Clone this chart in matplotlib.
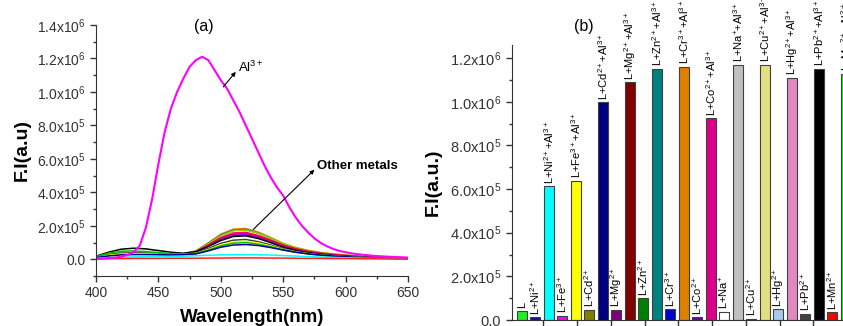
import matplotlib
matplotlib.use("Agg")
import matplotlib.pyplot as plt
import numpy as np

plt.rcParams['font.family'] = ['Liberation Sans', 'DejaVu Sans']
plt.rcParams['mathtext.fontset'] = 'custom'
plt.rcParams['mathtext.rm'] = 'Liberation Sans'
plt.rcParams['mathtext.it'] = 'Liberation Sans:italic'
plt.rcParams['mathtext.bf'] = 'Liberation Sans:bold'

# ---- panel (a): emission spectra, intensities in units of 1e5 ----
wl_al = list(range(400, 655, 5))
al3 = [0.02, 0.04, 0.07, 0.10, 0.15, 0.25, 0.42, 0.80, 1.9, 3.6,
       5.7, 7.6, 9.0, 10.0, 10.8, 11.5, 11.9, 12.1, 11.9, 11.3,
       10.7, 10.2, 9.5, 8.8, 8.0, 7.2, 6.4, 5.6, 4.9, 4.3,
       3.8, 3.1, 2.5, 2.0, 1.6, 1.25, 0.98, 0.78, 0.62, 0.5,
       0.42, 0.35, 0.30, 0.26, 0.22, 0.19, 0.17, 0.15, 0.13, 0.12, 0.10]

wl = list(range(400, 660, 10))
other_colors = ['#E08000', '#008080', '#99CC00', '#FF0080', '#FF0000', '#8000FF',
                '#000000', '#404040', '#FFFF00', '#00C000', '#0000A0', '#00FFFF', '#FF2020']
other_curves = [
    [0.15, 0.28, 0.36, 0.38, 0.36, 0.33, 0.31, 0.33, 0.50, 0.98, 1.50, 1.80, 1.84, 1.62, 1.30, 0.95, 0.70, 0.53, 0.41, 0.32, 0.26, 0.20, 0.15, 0.11, 0.08, 0.06],
    [0.14, 0.26, 0.33, 0.35, 0.34, 0.32, 0.30, 0.32, 0.48, 0.94, 1.44, 1.73, 1.78, 1.56, 1.24, 0.90, 0.66, 0.49, 0.37, 0.29, 0.23, 0.17, 0.13, 0.10, 0.07, 0.05],
    [0.16, 0.30, 0.38, 0.40, 0.38, 0.35, 0.32, 0.33, 0.47, 0.92, 1.41, 1.70, 1.74, 1.55, 1.25, 0.93, 0.68, 0.50, 0.38, 0.30, 0.24, 0.18, 0.14, 0.11, 0.08, 0.06],
    [0.13, 0.25, 0.32, 0.34, 0.33, 0.31, 0.29, 0.31, 0.45, 0.86, 1.30, 1.57, 1.61, 1.42, 1.14, 0.83, 0.61, 0.45, 0.34, 0.26, 0.21, 0.16, 0.12, 0.09, 0.07, 0.05],
    [0.12, 0.24, 0.31, 0.33, 0.32, 0.30, 0.28, 0.30, 0.43, 0.82, 1.24, 1.50, 1.54, 1.37, 1.12, 0.84, 0.63, 0.47, 0.36, 0.28, 0.22, 0.17, 0.13, 0.10, 0.07, 0.05],
    [0.12, 0.23, 0.30, 0.32, 0.31, 0.29, 0.27, 0.29, 0.41, 0.78, 1.18, 1.43, 1.47, 1.30, 1.04, 0.76, 0.56, 0.41, 0.31, 0.24, 0.19, 0.14, 0.11, 0.08, 0.06, 0.04],
    [0.18, 0.42, 0.60, 0.66, 0.62, 0.52, 0.42, 0.36, 0.45, 0.76, 1.12, 1.36, 1.40, 1.24, 0.99, 0.72, 0.53, 0.39, 0.29, 0.22, 0.17, 0.13, 0.10, 0.07, 0.05, 0.04],
    [0.14, 0.28, 0.36, 0.38, 0.36, 0.33, 0.30, 0.30, 0.38, 0.64, 0.95, 1.14, 1.18, 1.05, 0.85, 0.63, 0.47, 0.35, 0.27, 0.21, 0.16, 0.12, 0.09, 0.07, 0.05, 0.04],
    [0.12, 0.24, 0.31, 0.33, 0.32, 0.30, 0.28, 0.28, 0.35, 0.58, 0.86, 1.04, 1.08, 0.97, 0.79, 0.59, 0.44, 0.33, 0.25, 0.19, 0.15, 0.11, 0.09, 0.07, 0.05, 0.04],
    [0.16, 0.36, 0.48, 0.50, 0.46, 0.40, 0.34, 0.31, 0.35, 0.55, 0.80, 0.96, 1.00, 0.90, 0.74, 0.56, 0.42, 0.32, 0.24, 0.18, 0.14, 0.11, 0.08, 0.06, 0.05, 0.04],
    [0.10, 0.20, 0.26, 0.28, 0.28, 0.27, 0.26, 0.27, 0.32, 0.50, 0.72, 0.85, 0.88, 0.82, 0.70, 0.55, 0.42, 0.32, 0.25, 0.19, 0.15, 0.11, 0.09, 0.07, 0.05, 0.04],
    [0.05, 0.09, 0.12, 0.14, 0.15, 0.16, 0.17, 0.18, 0.21, 0.24, 0.26, 0.27, 0.28, 0.27, 0.25, 0.22, 0.19, 0.16, 0.13, 0.11, 0.09, 0.07, 0.06, 0.05, 0.04, 0.03],
    [0.02, 0.03, 0.04, 0.05, 0.05, 0.05, 0.06, 0.06, 0.06, 0.07, 0.07, 0.08, 0.08, 0.08, 0.07, 0.07, 0.06, 0.05, 0.05, 0.04, 0.04, 0.03, 0.03, 0.02, 0.02, 0.02],
]

a_yticks = [0, 2e5, 4e5, 6e5, 8e5, 1e6, 1.2e6, 1.4e6]
a_ylabels = ['0.0', r'2.0x10$^5$', r'4.0x10$^5$', r'6.0x10$^5$', r'8.0x10$^5$',
             r'1.0x10$^6$', r'1.2x10$^6$', r'1.4x10$^6$']

# ---- panel (b): bar intensities in units of 1e5 ----
bar_labels = ['L', r'L+Ni$^{2+}$', r'L+Ni$^{2+}$+Al$^{3+}$', r'L+Fe$^{3+}$', r'L+Fe$^{3+}$+Al$^{3+}$',
              r'L+Cd$^{2+}$', r'L+Cd$^{2+}$+Al$^{3+}$', r'L+Mg$^{2+}$', r'L+Mg$^{2+}$+Al$^{3+}$',
              r'L+Zn$^{2+}$', r'L+Zn$^{2+}$+Al$^{3+}$', r'L+Cr$^{3+}$', r'L+Cr$^{3+}$+Al$^{3+}$',
              r'L+Co$^{2+}$', r'L+Co$^{2+}$+Al$^{3+}$', r'L+Na$^{+}$', r'L+Na$^{+}$+Al$^{3+}$',
              r'L+Cu$^{2+}$', r'L+Cu$^{2+}$+Al$^{3+}$', r'L+Hg$^{2+}$', r'L+Hg$^{2+}$+Al$^{3+}$',
              r'L+Pb$^{2+}$', r'L+Pb$^{2+}$+Al$^{3+}$', r'L+Mn$^{2+}$', r'L+Mn$^{2+}$+Al$^{3+}$']
bar_values = [0.43, 0.12, 6.12, 0.20, 6.39, 0.46, 9.97, 0.46, 10.89, 0.99, 11.5, 0.49, 11.59,
              0.12, 9.24, 0.38, 11.7, 0.04, 11.7, 0.49, 11.09, 0.28, 11.5, 0.35, 11.28]
bar_colors = ['#22EE22', '#1010A0', '#00FFFF', '#FF00FF', '#FFFF00', '#808000', '#000080',
              '#800080', '#800000', '#008000', '#008080', '#0000CC', '#E08000', '#7000A0',
              '#DD0088', '#FFFFFF', '#C0C0C0', '#202020', '#E0E080', '#A8C8F0', '#E088C0',
              '#404040', '#000000', '#FF0000', '#00FF00']

b_yticks = [0, 2e5, 4e5, 6e5, 8e5, 1e6, 1.2e6]
b_ylabels = ['0.0', r'2.0x10$^5$', r'4.0x10$^5$', r'6.0x10$^5$', r'8.0x10$^5$',
             r'1.0x10$^6$', r'1.2x10$^6$']
b_xticks = [1.6, 4.1, 6.6, 9.1, 11.6, 14.1, 16.6, 19.1, 21.6]

fig = plt.figure(figsize=(8.43, 3.26), dpi=100)

# panel (a)
ax1 = fig.add_axes([0.1139, 0.1534, 0.3701, 0.770])
for c, ys in zip(other_colors, other_curves):
    ax1.plot(wl, np.array(ys) * 1e5, color=c, lw=1.1)
ax1.plot(wl_al, np.array(al3) * 1e5, color='#FF00FF', lw=1.5)
ax1.set_xlim(400, 650)
ax1.set_ylim(-1e5, 1.4e6)
ax1.set_xticks([400, 450, 500, 550, 600, 650])
ax1.set_xticks([425, 475, 525, 575, 625], minor=True)
ax1.set_yticks(a_yticks)
ax1.set_yticklabels(a_ylabels)
ax1.set_yticks([-1e5, 1e5, 3e5, 5e5, 7e5, 9e5, 1.1e6, 1.3e6], minor=True)
ax1.tick_params(which='major', direction='out', length=4, width=1, labelsize=10, colors='#333333')
ax1.tick_params(which='minor', direction='out', length=2.5, width=1, colors='#333333')
for s in ['top', 'right']:
    ax1.spines[s].set_visible(False)
for s in ['left', 'bottom']:
    ax1.spines[s].set_color('#333333')
ax1.set_xlabel('Wavelength(nm)', fontsize=13.5, fontweight='bold', labelpad=6)
ax1.set_ylabel('F.I(a.u)', fontsize=14, fontweight='bold', labelpad=4)
ax1.text(486, 1.39e6, '(a)', fontsize=11.5, ha='center', va='center')

arrow = dict(arrowstyle='-|>', color='black', lw=0.8, mutation_scale=6, shrinkA=0, shrinkB=0)
ax1.annotate('', xy=(512, 11.2e5), xytext=(502, 10.3e5), arrowprops=arrow)
ax1.text(514, 11.45e5, 'Al$^{3+}$', fontsize=9.5, va='center', ha='left')
ax1.annotate('', xy=(575, 5.35e5), xytext=(526, 1.78e5), arrowprops=arrow)
ax1.text(577, 5.6e5, 'Other metals', fontsize=9.5, fontweight='bold', va='center', ha='left')

# panel (b)
ax2 = fig.add_axes([0.607, 0.0184, 0.393, 0.8436])
x = np.arange(len(bar_values))
vals = np.array(bar_values) * 1e5
bars = ax2.bar(x, vals, width=0.76, color=bar_colors, edgecolor='#404040', linewidth=0.8)
for xi, v, lab in zip(x, vals, bar_labels):
    ax2.annotate(lab, xy=(xi, v), xytext=(0, 2), textcoords='offset points',
                 rotation=90, ha='center', va='bottom', fontsize=8, annotation_clip=False)
ax2.set_xlim(-0.74, 23.8)
ax2.set_ylim(0, 1.26e6)
ax2.set_xticks(b_xticks)
ax2.set_xticklabels([])
ax2.set_yticks(b_yticks)
ax2.set_yticklabels(b_ylabels)
ax2.set_yticks([1e5, 3e5, 5e5, 7e5, 9e5, 1.1e6], minor=True)
ax2.tick_params(which='major', direction='out', length=4, width=1, labelsize=10.5, colors='#333333')
ax2.tick_params(which='minor', direction='out', length=2.5, width=1, colors='#333333')
for s in ['top', 'right']:
    ax2.spines[s].set_visible(False)
for s in ['left', 'bottom']:
    ax2.spines[s].set_color('#333333')
ax2.set_ylabel('F.I(a.u.)', fontsize=14, fontweight='bold', labelpad=6)
ax2.text(4.6, 1.345e6, '(b)', fontsize=11.5, ha='center', va='center')

fig.savefig('out.png', dpi=100)
